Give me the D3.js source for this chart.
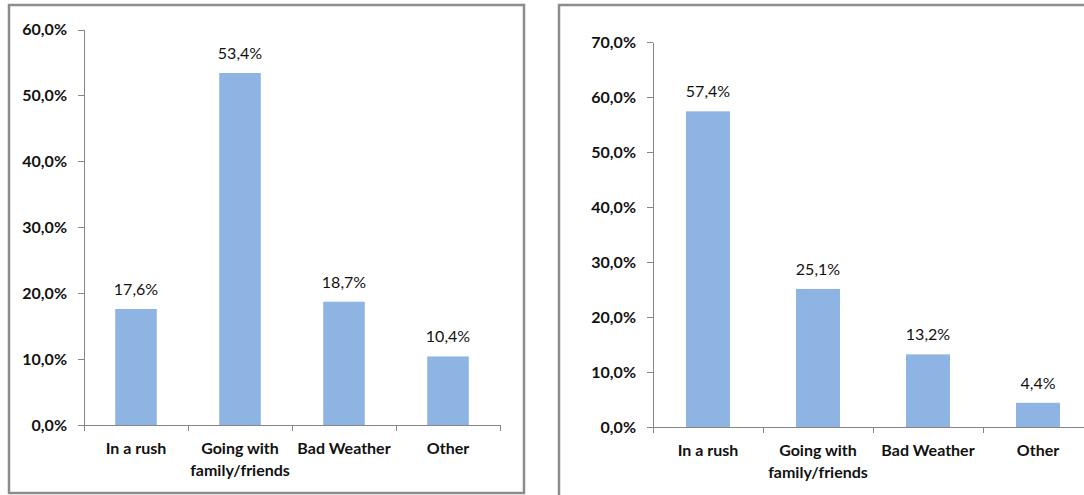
<!DOCTYPE html>
<html>
<head>
<meta charset="utf-8">
<script src="https://cdn.jsdelivr.net/npm/d3@7"></script>
<style>
  body { margin: 0; background: #fff; }
  svg { display: block; font-family: Lato, "Open Sans", sans-serif; }
  .axis path, .axis line { stroke: #868686; shape-rendering: crispEdges; }
  .axis text { font-family: Lato, "Open Sans", sans-serif; font-size: 16px; font-weight: bold; fill: #111; }
</style>
</head>
<body>
<div id="chart"></div>
<script>
// categories shared by both charts
var categories = ["In a rush", "Going with|family/friends", "Bad Weather", "Other"];

// left chart
var leftValues = [17.6, 53.4, 18.7, 10.4];
var leftTicks = [0, 10, 20, 30, 40, 50, 60];

// right chart
var rightValues = [57.4, 25.1, 13.2, 4.4];
var rightTicks = [0, 10, 20, 30, 40, 50, 60, 70];

var width = 1084, height = 495;

var svg = d3.select("#chart")
    .append("svg")
    .attr("width", width)
    .attr("height", height);

svg.append("rect")
    .attr("width", width)
    .attr("height", height)
    .attr("fill", "#fff");

var fmt = function (d) { return d.toFixed(1).replace(".", ",") + "%"; };

// draws one framed bar chart
function drawPanel(p) {
    // panel frame
    svg.append("rect")
        .attr("x", p.frame[0])
        .attr("y", p.frame[1])
        .attr("width", p.frame[2])
        .attr("height", p.frame[3])
        .attr("fill", "none")
        .attr("stroke", "#8c8c8c")
        .attr("stroke-width", 2.5);

    var x = d3.scaleBand()
        .domain(categories)
        .range([p.x0, p.x1])
        .paddingInner(0.6)
        .paddingOuter(0.3);

    var y = d3.scaleLinear()
        .domain([0, d3.max(p.ticks)])
        .range([p.y0, p.y1]);

    // y axis
    svg.append("g")
        .attr("class", "axis")
        .attr("transform", "translate(" + p.x0 + ",0)")
        .call(d3.axisLeft(y)
            .tickValues(p.ticks)
            .tickFormat(fmt)
            .tickSize(6)
            .tickSizeOuter(0)
            .tickPadding(11));

    // bars
    svg.selectAll(".bar-" + p.id)
        .data(p.values)
        .join("rect")
        .attr("class", "bar-" + p.id)
        .attr("x", function (d, i) { return x(categories[i]); })
        .attr("y", function (d) { return y(d); })
        .attr("width", x.bandwidth())
        .attr("height", function (d) { return y(0) - y(d); })
        .attr("fill", "#8db4e2");

    // x axis with ticks between categories
    var xb = d3.scaleLinear().domain([0, categories.length]).range([p.x0, p.x1]);
    svg.append("g")
        .attr("class", "axis")
        .attr("transform", "translate(0," + p.y0 + ")")
        .call(d3.axisBottom(xb)
            .tickValues(d3.range(categories.length + 1))
            .tickFormat("")
            .tickSize(6)
            .tickSizeOuter(0));

    // category labels
    categories.forEach(function (c, i) {
        var t = svg.append("text")
            .attr("x", x(c) + x.bandwidth() / 2)
            .attr("y", p.y0 + 29)
            .attr("text-anchor", "middle")
            .attr("font-size", "16px")
            .attr("font-weight", "bold")
            .attr("fill", "#111");
        c.split("|").forEach(function (line, j) {
            t.append("tspan")
                .attr("x", x(c) + x.bandwidth() / 2)
                .attr("dy", j === 0 ? 0 : 22)
                .text(line);
        });
    });

    // value labels
    svg.selectAll(".lbl-" + p.id)
        .data(p.values)
        .join("text")
        .attr("class", "lbl-" + p.id)
        .attr("x", function (d, i) { return x(categories[i]) + x.bandwidth() / 2; })
        .attr("y", function (d) { return y(d) - 14; })
        .attr("text-anchor", "middle")
        .attr("font-size", "16px")
        .attr("fill", "#111")
        .text(fmt);
}

drawPanel({ id: "l", frame: [9, 5, 515, 488], x0: 84, x1: 500, y0: 425, y1: 29.5, ticks: leftTicks, values: leftValues });
drawPanel({ id: "r", frame: [559, 5, 560, 510], x0: 653, x1: 1093, y0: 427, y1: 42, ticks: rightTicks, values: rightValues });
</script>
</body>
</html>
